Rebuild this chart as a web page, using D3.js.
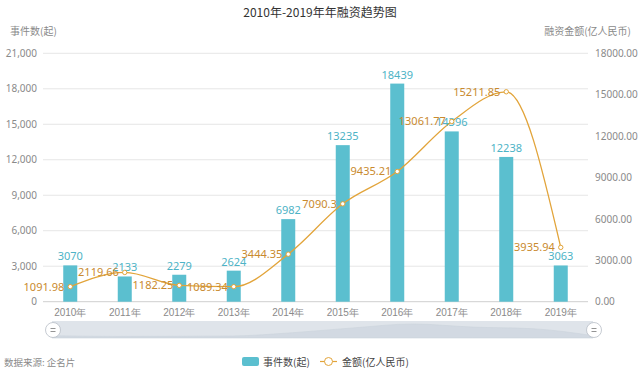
<!DOCTYPE html>
<html><head><meta charset="utf-8">
<script src="https://cdn.jsdelivr.net/npm/d3@7"></script>
<style>
body{margin:0;background:#fff;}
svg{display:block;font-family:"Noto Sans CJK SC","Noto Sans",sans-serif;}
</style></head>
<body><svg id="c" width="641" height="381"></svg>
<script>
const years = ["2010年","2011年","2012年","2013年","2014年","2015年","2016年","2017年","2018年","2019年"];
const counts = [3070,2133,2279,2624,6982,13235,18439,14396,12238,3063];
const amounts = [1091.98,2119.66,1182.25,1089.34,3444.35,7090.3,9435.21,13061.77,15211.85,3935.94];
const leftTicks = [0,3000,6000,9000,12000,15000,18000,21000];
const rightTicks = [0,3000,6000,9000,12000,15000,18000];

const svg = d3.select("#c");
const L = 43, R = 588, T = 53.3, B = 301.7;
const barColor = "#5bbfcf", lineColor = "#e2a43a", lineLabel = "#c98a2e", axisText = "#8a8a8a";

const x = d3.scaleBand().domain(years).range([L, R]);
const yL = d3.scaleLinear().domain([0, 21000]).range([B, T]);
const yR = d3.scaleLinear().domain([0, 18000]).range([B, T]);

// title
svg.append("text").attr("x", 320).attr("y", 17).attr("text-anchor", "middle")
  .attr("font-size", 12).attr("fill", "#333").text("2010年-2019年年融资趋势图");
svg.append("text").attr("x", 10).attr("y", 35).attr("font-size", 10).attr("fill", axisText).text("事件数(起)");
svg.append("text").attr("x", 631).attr("y", 35).attr("text-anchor", "end").attr("font-size", 10).attr("fill", axisText).text("融资金额(亿人民币)");

// grid
svg.append("g").selectAll("line").data(leftTicks).join("line")
  .attr("x1", L).attr("x2", R).attr("y1", d => yL(d)).attr("y2", d => yL(d))
  .attr("stroke", d => d === 0 ? "#cfcfcf" : "#e6e6e6").attr("stroke-width", 1);

// left axis
const gl = svg.append("g").attr("transform", `translate(${L},0)`)
  .call(d3.axisLeft(yL).tickValues(leftTicks).tickSize(0).tickPadding(6).tickFormat(d3.format(",")));
gl.select(".domain").remove();
gl.selectAll("text").attr("fill", axisText).attr("font-size", 10).attr("font-family", "Noto Sans, sans-serif");

// right axis
const gr = svg.append("g").attr("transform", `translate(${R},0)`)
  .call(d3.axisRight(yR).tickValues(rightTicks).tickSize(0).tickPadding(7).tickFormat(d3.format(".2f")));
gr.select(".domain").remove();
gr.selectAll("text").attr("fill", axisText).attr("font-size", 10).attr("font-family", "Noto Sans, sans-serif");

// x axis
const gx = svg.append("g").attr("transform", `translate(0,${B})`)
  .call(d3.axisBottom(x).tickSize(0).tickPadding(7));
gx.select(".domain").remove();
gx.selectAll("text").attr("fill", axisText).attr("font-size", 10);

// bars
const bw = 14;
svg.append("g").selectAll("rect").data(counts).join("rect")
  .attr("x", (d, i) => x(years[i]) + x.bandwidth() / 2 - bw / 2)
  .attr("width", bw)
  .attr("y", d => yL(d)).attr("height", d => B - yL(d))
  .attr("fill", barColor);

// line
const line = d3.line().x((d, i) => x(years[i]) + x.bandwidth() / 2).y(d => yR(d)).curve(d3.curveMonotoneX);
svg.append("path").datum(amounts).attr("d", line).attr("fill", "none")
  .attr("stroke", lineColor).attr("stroke-width", 1.3);

// bar labels
svg.append("g").selectAll("text").data(counts).join("text")
  .attr("x", (d, i) => x(years[i]) + x.bandwidth() / 2)
  .attr("y", d => yL(d) - 5).attr("text-anchor", "middle")
  .attr("font-size", 11).attr("fill", "#4db3c6").attr("font-family", "Noto Sans, sans-serif")
  .text(d => d);

// points
svg.append("g").selectAll("circle").data(amounts).join("circle")
  .attr("cx", (d, i) => x(years[i]) + x.bandwidth() / 2).attr("cy", d => yR(d))
  .attr("r", 2.2).attr("fill", "#fff").attr("stroke", lineColor).attr("stroke-width", 1);

// line labels
svg.append("g").selectAll("text").data(amounts).join("text")
  .attr("x", (d, i) => x(years[i]) + x.bandwidth() / 2 - 6)
  .attr("y", d => yR(d) + 4).attr("text-anchor", "end")
  .attr("font-size", 11).attr("fill", lineLabel).attr("font-family", "Noto Sans, sans-serif")
  .text(d => d);

// data zoom slider
const sL = 52, sR = 593, sT = 321, sB = 338;
svg.append("rect").attr("x", sL).attr("y", sT).attr("width", sR - sL).attr("height", sB - sT)
  .attr("fill", "#dfe4ea");
const sx = d3.scalePoint().domain(years).range([sL, sR]);
const sy = d3.scaleLinear().domain([0, 18439]).range([sB, sT + 3]);
const area = d3.area().x((d, i) => sx(years[i])).y0(sB).y1(d => sy(d)).curve(d3.curveMonotoneX);
svg.append("path").datum(counts).attr("d", area).attr("fill", "#d2d9e2").attr("stroke", "#cbd3dc").attr("stroke-width", 0.6);
[sL + 1, sR + 1].forEach(cx => {
  const g = svg.append("g");
  g.append("circle").attr("cx", cx).attr("cy", 330).attr("r", 7.5).attr("fill", "#fff")
    .attr("stroke", "#b8bec6").attr("stroke-width", 0.8);
  [-1.5, 1.5].forEach(dy => g.append("line").attr("x1", cx - 2.5).attr("x2", cx + 2.5)
    .attr("y1", 330 + dy).attr("y2", 330 + dy).attr("stroke", "#888").attr("stroke-width", 0.9));
});

// source
svg.append("text").attr("x", 4).attr("y", 366).attr("font-size", 9.5).attr("fill", "#8a8a8a").text("数据来源: 企名片");

// legend
svg.append("rect").attr("x", 242).attr("y", 357).attr("width", 17).attr("height", 9).attr("rx", 2).attr("fill", barColor);
svg.append("text").attr("x", 263).attr("y", 365.5).attr("font-size", 10).attr("fill", "#444").text("事件数(起)");
svg.append("line").attr("x1", 320).attr("x2", 337).attr("y1", 361.5).attr("y2", 361.5).attr("stroke", lineColor).attr("stroke-width", 1.2);
svg.append("circle").attr("cx", 328.5).attr("cy", 361.5).attr("r", 4).attr("fill", "#fff").attr("stroke", lineColor).attr("stroke-width", 1);
svg.append("text").attr("x", 342).attr("y", 365.5).attr("font-size", 10).attr("fill", "#444").text("金额(亿人民币)");
</script></body></html>
